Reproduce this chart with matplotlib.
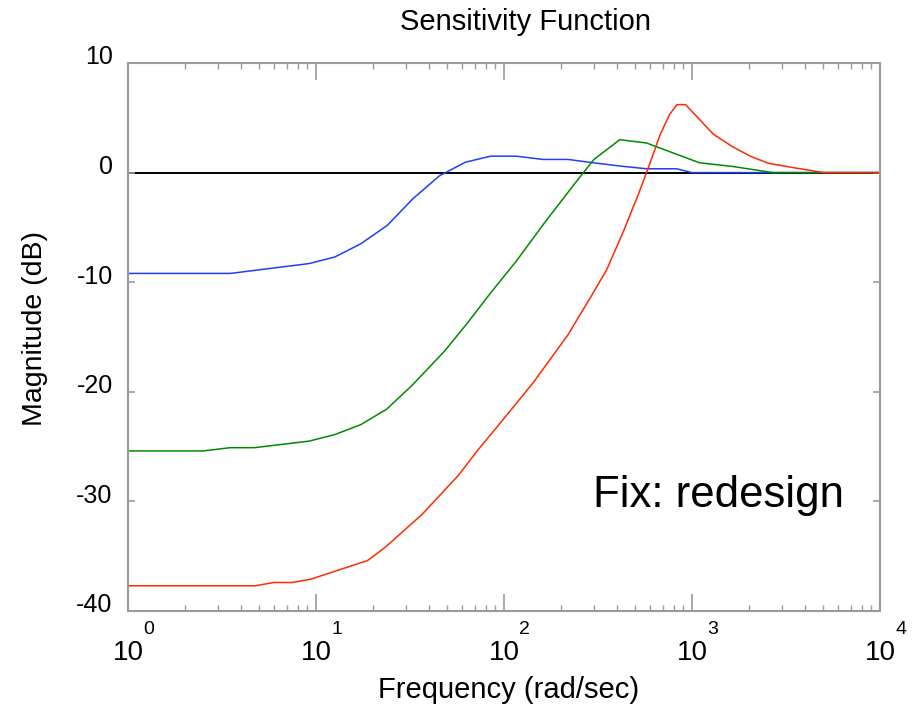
import numpy as np
import matplotlib
matplotlib.use('Agg')
import matplotlib.pyplot as plt
from matplotlib.ticker import LogLocator, NullFormatter
import matplotlib.transforms as mtransforms

plt.rcParams['font.family'] = ['Liberation Sans', 'DejaVu Sans']

# frequencies (rad/sec) and magnitudes (dB)
blue_w = [1.0, 3.5, 9.2, 12.6, 17.3, 24.0, 32.7, 45.3, 62.4, 85.0, 116.0, 161.0,
          219.0, 298.0, 413.0, 573.0, 828.0, 1000.0, 10000.0]
blue_db = [-9.2, -9.2, -8.3, -7.7, -6.5, -4.8, -2.4, -0.3, 0.95, 1.5, 1.5, 1.2,
           1.2, 0.9, 0.6, 0.35, 0.35, 0.0, 0.0]

green_w = [1.0, 2.5, 3.5, 4.7, 9.2, 12.6, 17.3, 23.7, 32.5, 48.2, 64.1, 83.8,
           116.0, 164.0, 243.0, 301.0, 413.0, 573.0, 1094.0, 1660.0, 2690.0, 10000.0]
green_db = [-25.4, -25.4, -25.1, -25.1, -24.5, -23.9, -23.0, -21.6, -19.4, -16.3, -13.7, -11.1,
            -8.1, -4.6, -0.8, 1.2, 3.0, 2.7, 0.9, 0.55, 0.0, 0.0]

red_w = [1.0, 4.76, 5.97, 7.48, 9.38, 18.8, 23.3, 36.6, 57.4, 71.9, 88.9, 142.6,
         219.0, 286.0, 351.0, 431.0, 518.0, 585.0, 675.0, 760.0, 832.0, 925.0,
         1300.0, 1630.0, 2040.0, 2550.0, 3470.0, 5010.0, 10000.0]
red_db = [-37.7, -37.7, -37.4, -37.4, -37.1, -35.4, -34.2, -31.2, -27.6, -25.4, -23.5, -19.2,
          -14.8, -11.5, -8.9, -5.4, -2.0, 0.4, 3.4, 5.3, 6.2, 6.2,
          3.5, 2.4, 1.5, 0.85, 0.45, 0.0, 0.0]

decades = [0, 1, 2, 3, 4]
yticks = [-40, -30, -20, -10, 0, 10]

fig = plt.figure(figsize=(9.15, 7.07), dpi=100)
ax = fig.add_axes([0.1399, 0.1358, 0.8218, 0.7751])

ax.axhline(0, color='black', lw=1.4, zorder=1)
ax.plot(blue_w, blue_db, color='#1f3cff', lw=1.1, zorder=2)
ax.plot(green_w, green_db, color='#008a00', lw=1.1, zorder=2)
ax.plot(red_w, red_db, color='#ff2a00', lw=1.1, zorder=2)

ax.set_xscale('log')
ax.set_xlim(1, 1e4)
ax.set_ylim(-40, 10)

gray = '#9a9a9a'
for s in ax.spines.values():
    s.set_color(gray)
    s.set_linewidth(1.5)

ax.xaxis.set_major_locator(LogLocator(base=10, numticks=10))
ax.xaxis.set_minor_locator(LogLocator(base=10, subs=np.arange(2, 10), numticks=10))
ax.xaxis.set_minor_formatter(NullFormatter())
ax.set_xticklabels([])
ax.tick_params(axis='x', which='major', direction='in', length=12, width=1.2,
               color=gray, top=True, bottom=True)
ax.tick_params(axis='x', which='minor', direction='in', length=4.5, width=1.0,
               color=gray, top=True, bottom=True)

ax.set_yticks(yticks)
ax.set_yticklabels([str(v) for v in yticks])
ax.tick_params(axis='y', which='major', direction='in', length=5, width=1.2,
               color=gray, left=True, right=True, labelsize=18, pad=11)
shift = mtransforms.ScaledTranslation(0, 0.08, fig.dpi_scale_trans)
for lab in ax.get_yticklabels():
    lab.set_transform(lab.get_transform() + shift)

# x tick labels in the old style: "10" with the exponent up and to the right
for d in decades:
    ax.annotate('10', xy=(10 ** d, 0), xycoords=('data', 'axes fraction'),
                xytext=(0, -30), textcoords='offset points',
                ha='center', va='center', fontsize=20)
    ax.annotate(str(d), xy=(10 ** d, 0), xycoords=('data', 'axes fraction'),
                xytext=(15, -13), textcoords='offset points',
                ha='center', va='center', fontsize=14)

fig.text(525 / 915, 1 - 22 / 707, 'Sensitivity Function', ha='center', va='center',
         fontsize=21)
fig.text(509 / 915, 1 - 690 / 707, 'Frequency (rad/sec)', ha='center', va='center',
         fontsize=21)
fig.text(35 / 915, 1 - 328 / 707, 'Magnitude (dB)', ha='center', va='center',
         rotation=90, fontsize=20.5)
fig.text(593 / 915, 1 - 507 / 707, 'Fix: redesign', ha='left', va='baseline',
         fontsize=31.5)

fig.savefig('out.png', dpi=100)
